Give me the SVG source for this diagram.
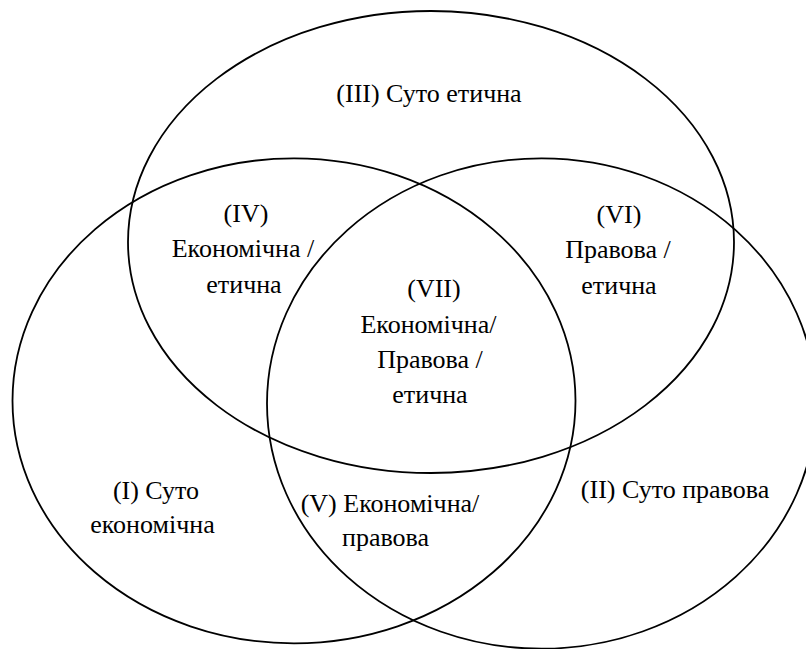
<svg xmlns="http://www.w3.org/2000/svg" width="806" height="649" viewBox="0 0 806 649">
<style>
.c{fill:none;stroke:#000;stroke-width:1.8}
text{font-family:"Liberation Serif","Times New Roman",serif;font-size:26px;fill:#000;text-anchor:middle}
</style>
<rect width="806" height="649" fill="#fff"/>
<g id="circles">
<ellipse id="ethic" class="c" cx="431" cy="242" rx="303" ry="231"/>
<ellipse id="econ" class="c" cx="294" cy="400.8" rx="281.5" ry="242.5"/>
<ellipse id="law" class="c" cx="541.5" cy="403.5" rx="274.5" ry="245.2"/>
</g>
<g id="r3"><text x="429" y="102">(III) Суто етична</text></g>
<g id="r4"><text x="246" y="222">(IV)</text><text x="243" y="257">Економічна /</text><text x="244" y="293">етична</text></g>
<g id="r6"><text x="619" y="223">(VI)</text><text x="618" y="258">Правова /</text><text x="619" y="294">етична</text></g>
<g id="r7"><text x="434" y="297">(VII)</text><text x="428.5" y="333">Економічна/</text><text x="430" y="368">Правова /</text><text x="430" y="403">етична</text></g>
<g id="r1"><text x="156" y="499">(I) Суто</text><text x="152.5" y="533">економічна</text></g>
<g id="r5"><text x="390" y="512">(V) Економічна/</text><text x="385.5" y="546">правова</text></g>
<g id="r2"><text x="675" y="498">(II) Суто правова</text></g>
</svg>
